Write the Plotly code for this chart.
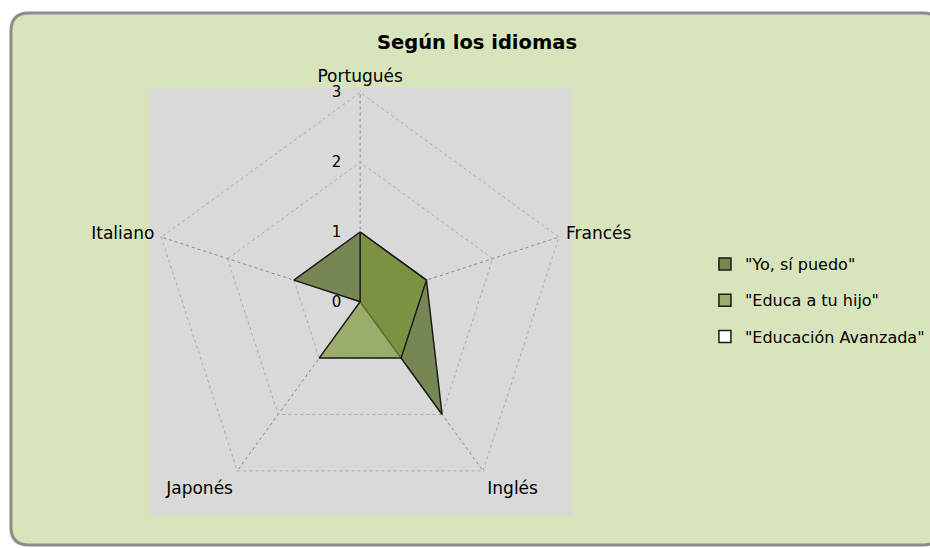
import plotly.graph_objects as go

# ---- data ----
categories = ["Portugués", "Francés", "Inglés", "Japonés", "Italiano"]
series_names = ['"Yo, sí puedo"', '"Educa a tu hijo"', '"Educación Avanzada"']
yo_si_puedo = [1, 1, 2, 0, 1]
educa_a_tu_hijo = [1, 1, 1, 1, 0]
educacion_avanzada = [0, 0, 0, 0, 0]
radial_ticks = [0, 1, 2, 3]

W, H = 930, 548
FONT = "DejaVu Sans"


def px(x):
    return x / W


def py(y):
    return 1 - y / H


def closed(v):
    return list(v) + [v[0]]


theta = closed(categories)

fill_colors = ["rgb(119,135,84)", "rgba(124,152,57,0.68)", "rgba(255,255,255,1)"]
legend_colors = ["#77874f", "#9aad6c", "#ffffff"]
values = [yo_si_puedo, educa_a_tu_hijo, educacion_avanzada]

fig = go.Figure()

for name, vals, fc in zip(series_names, values, fill_colors):
    fig.add_trace(go.Scatterpolar(
        r=closed(vals), theta=theta, mode="lines", fill="toself",
        fillcolor=fc, line=dict(color="#1a1a1a", width=1.5),
        name=name, showlegend=False, hoverinfo="skip",
    ))

for i, (name, lc) in enumerate(zip(series_names, legend_colors)):
    fig.add_trace(go.Scatterpolar(
        r=[None], theta=[categories[0]], mode="markers",
        marker=dict(symbol="square", size=12, color=lc,
                    line=dict(color="#1a1a1a", width=1.5)),
        name=name, legendgroup=f"g{i}", showlegend=True,
    ))

x0, x1, y0, y1, rr = 11, 945, 13, 545, 18
path = (
    f"M {px(x0 + rr)},{py(y0)} L {px(x1 - rr)},{py(y0)} "
    f"Q {px(x1)},{py(y0)} {px(x1)},{py(y0 + rr)} "
    f"L {px(x1)},{py(y1 - rr)} Q {px(x1)},{py(y1)} {px(x1 - rr)},{py(y1)} "
    f"L {px(x0 + rr)},{py(y1)} Q {px(x0)},{py(y1)} {px(x0)},{py(y1 - rr)} "
    f"L {px(x0)},{py(y0 + rr)} Q {px(x0)},{py(y0)} {px(x0 + rr)},{py(y0)} Z"
)

shapes = [
    dict(type="path", path=path, xref="paper", yref="paper",
         fillcolor="#d8e4bc", line=dict(color="#8c8c8c", width=3), layer="below"),
    dict(type="rect", xref="paper", yref="paper",
         x0=px(150), x1=px(575), y0=py(515), y1=py(88),
         fillcolor="#d9d9d9", line=dict(width=0), layer="below"),
]

RMAX = 3.02
cx, cy = 361.7, 301.7
R = 210 * RMAX / 3

fig.update_layout(
    width=W, height=H,
    margin=dict(l=0, r=0, t=0, b=0),
    paper_bgcolor="white",
    font=dict(family=FONT, color="black"),
    shapes=shapes,
    title=dict(text="<b>Según los idiomas</b>", x=px(477), y=py(42),
               xanchor="center", yanchor="middle",
               font=dict(family=FONT, size=19.5, color="black")),
    polar=dict(
        domain=dict(x=[px(cx - R), px(cx + R)], y=[py(cy + R), py(cy - R)]),
        bgcolor="rgba(0,0,0,0)",
        gridshape="linear",
        radialaxis=dict(
            range=[0, RMAX], tickvals=radial_ticks, angle=90, tickangle=90,
            side="counterclockwise", showline=False,
            ticks="outside", ticklen=13, tickcolor="rgba(0,0,0,0)",
            gridcolor="#ababab", griddash="dot", gridwidth=1,
            tickfont=dict(family=FONT, size=15, color="black"),
        ),
        angularaxis=dict(
            direction="clockwise", rotation=90,
            ticks="outside", ticklen=2, tickcolor="rgba(0,0,0,0)",
            showline=False,
            gridcolor="#8c8c8c", griddash="dot", gridwidth=1,
            tickfont=dict(family=FONT, size=17, color="black"),
        ),
    ),
    showlegend=True,
    legend=dict(
        x=px(708), y=py(247), xanchor="left", yanchor="top",
        bgcolor="rgba(0,0,0,0)", borderwidth=0,
        font=dict(family=FONT, size=16, color="black"),
        traceorder="grouped", tracegroupgap=12.5,
    ),
)

fig.write_html(
    "out.html",
    config={"displayModeBar": False},
    post_script="document.body.style.margin='0';"
                "document.documentElement.style.overflow='hidden';",
)
